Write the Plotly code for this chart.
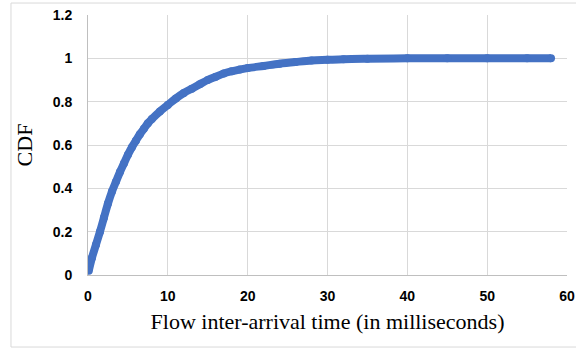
import plotly.graph_objects as go

flow_ms = [0.1, 0.5, 1, 1.5, 2, 2.5, 3, 3.5, 4, 4.5, 5, 5.5, 6, 6.5, 7, 7.5, 8, 9, 10, 11,
           12, 13, 14, 15, 16, 17, 18, 19, 20, 22, 24, 26, 28, 30, 32, 35, 40, 45, 50, 55, 58]
cdf = [0.02, 0.08, 0.14, 0.20, 0.265, 0.33, 0.385, 0.43, 0.475, 0.515, 0.555, 0.59, 0.62,
       0.65, 0.675, 0.70, 0.72, 0.755, 0.785, 0.815, 0.84, 0.86, 0.88, 0.90, 0.915, 0.93,
       0.94, 0.948, 0.955, 0.965, 0.975, 0.983, 0.99, 0.993, 0.996, 0.998, 1.0, 1.0, 1.0,
       1.0, 1.0]
x_ticks = [0, 10, 20, 30, 40, 50, 60]
y_ticks = [0, 0.2, 0.4, 0.6, 0.8, 1, 1.2]
y_tick_text = ["0", "0.2", "0.4", "0.6", "0.8", "1", "1.2"]

blue = "#4472C4"
fig = go.Figure()
fig.add_trace(go.Scatter(
    x=flow_ms, y=cdf, mode="lines+markers",
    line=dict(color=blue, width=8, shape="spline"),
    marker=dict(color=blue, size=8),
    showlegend=False, hoverinfo="skip"))

tick_font = dict(family="Liberation Sans", size=14, color="#000000", weight="bold")
title_font = dict(family="Liberation Serif", size=22, color="#000000")

fig.update_layout(
    width=576, height=349,
    margin=dict(l=88, r=9, t=15, b=74, autoexpand=False),
    paper_bgcolor="white", plot_bgcolor="white",
    xaxis=dict(range=[0, 60], tickvals=x_ticks, showgrid=True, gridcolor="#d9d9d9",
               gridwidth=1, zeroline=False, showline=True, linecolor="#bfbfbf",
               ticks="", tickfont=tick_font, ticklabelstandoff=8, automargin=False,
               title=dict(text="Flow inter-arrival time (in milliseconds)", font=title_font,
                          standoff=10)),
    yaxis=dict(range=[0, 1.2], tickvals=y_ticks, ticktext=y_tick_text, showgrid=True,
               gridcolor="#d9d9d9", gridwidth=1, zeroline=False, showline=True,
               linecolor="#bfbfbf", ticks="", tickfont=tick_font, ticklabelstandoff=12,
               automargin=False,
               title=dict(text="CDF", font=title_font, standoff=14)),
    shapes=[dict(type="rect", xref="paper", yref="paper", x0=-0.1608, x1=1.03,
                 y0=-0.277, y1=1.046, line=dict(color="#d9d9d9", width=1),
                 fillcolor="rgba(0,0,0,0)", layer="below")],
)

fig.write_html("out.html")
